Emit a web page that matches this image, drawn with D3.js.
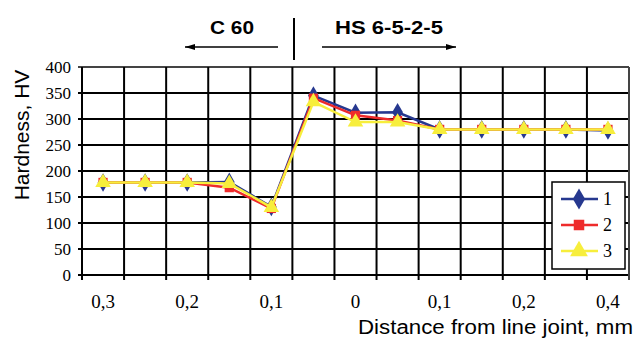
<!DOCTYPE html>
<html>
<head>
<meta charset="utf-8">
<script src="https://cdn.jsdelivr.net/npm/d3@7"></script>
<style>
  body { margin: 0; background: #fff; }
  svg { display: block; }
</style>
</head>
<body>
<div id="chart"></div>
<script>
// tick labels under the axis (only every other position is labelled)
var xLabels = ["0,3", "", "0,2", "", "0,1", "", "0", "", "0,1", "", "0,2", "", "0,4"];
var yTicks = [0, 50, 100, 150, 200, 250, 300, 350, 400];

// hardness values, one per position
var series1 = [178, 178, 178, 179, 131, 345, 312, 313, 280, 280, 280, 280, 278];
var series2 = [178, 178, 178, 168, 128, 340, 307, 297, 280, 280, 280, 280, 280];
var series3 = [178, 178, 178, 176, 130, 333, 294, 294, 280, 280, 280, 280, 280];
var seriesNames = ["1", "2", "3"];

var width = 636, height = 343;
// plot box (window.top is reserved, so prefixed names)
var plotLeft = 82, plotRight = 629, plotTop = 67, plotBottom = 275;

var colors = ["#26388f", "#ee2b2b", "#f7ee3c"];
var symbols = [d3.symbolDiamond, d3.symbolSquare, d3.symbolTriangle];
var symSize = [100, 85, 105];

var svg = d3.select("#chart").append("svg")
  .attr("width", width)
  .attr("height", height);

var x = d3.scaleBand()
  .domain(d3.range(xLabels.length))
  .range([plotLeft, plotRight])
  .padding(0);

var y = d3.scaleLinear()
  .domain([0, 400])
  .range([plotBottom, plotTop]);

// horizontal grid
svg.append("g").selectAll("line")
  .data(yTicks)
  .enter().append("line")
  .attr("x1", plotLeft - 4).attr("x2", plotRight)
  .attr("y1", function(d){ return y(d); })
  .attr("y2", function(d){ return y(d); })
  .attr("stroke", function(d){ return d == 400 ? "#444" : "#000"; })
  .attr("stroke-width", 2);

// vertical grid at band edges
var edges = x.domain().map(function(d){ return x(d); }).concat([plotRight]);
svg.append("g").selectAll("line")
  .data(edges)
  .enter().append("line")
  .attr("x1", function(d){ return d; })
  .attr("x2", function(d){ return d; })
  .attr("y1", plotTop)
  .attr("y2", plotBottom + 5)
  .attr("stroke", function(d, i){ return i == edges.length - 1 ? "#444" : "#000"; })
  .attr("stroke-width", 2);

// y tick labels
svg.append("g").selectAll("text")
  .data(yTicks)
  .enter().append("text")
  .attr("x", 71)
  .attr("y", function(d){ return y(d) + 5.5; })
  .attr("text-anchor", "end")
  .attr("font-family", "Liberation Serif")
  .attr("font-size", 17)
  .text(function(d){ return d; });

// x tick labels
svg.append("g").selectAll("text")
  .data(xLabels)
  .enter().append("text")
  .attr("x", function(d, i){ return x(i) + x.bandwidth() / 2; })
  .attr("y", 308)
  .attr("text-anchor", "middle")
  .attr("font-family", "Liberation Serif")
  .attr("font-size", 19)
  .text(function(d){ return d; });

// axis titles
svg.append("text")
  .attr("x", 633)
  .attr("y", 334)
  .attr("text-anchor", "end")
  .attr("font-family", "Liberation Sans")
  .attr("font-size", 20)
  .attr("textLength", 275)
  .attr("lengthAdjust", "spacingAndGlyphs")
  .text("Distance from line joint, mm");

svg.append("text")
  .attr("transform", "translate(29,135) rotate(-90)")
  .attr("text-anchor", "middle")
  .attr("font-family", "Liberation Sans")
  .attr("font-size", 21)
  .text("Hardness, HV");

// material labels and arrows above the plot
svg.append("defs").append("marker")
  .attr("id", "head")
  .attr("viewBox", "0 0 10 6")
  .attr("refX", 10).attr("refY", 3)
  .attr("markerWidth", 10).attr("markerHeight", 6)
  .attr("markerUnits", "userSpaceOnUse")
  .attr("orient", "auto")
  .append("path")
  .attr("d", "M0,0L10,3L0,6Z")
  .attr("fill", "#000");

svg.append("line")
  .attr("x1", 278).attr("x2", 185).attr("y1", 47).attr("y2", 47)
  .attr("stroke", "#000").attr("stroke-width", 1.5)
  .attr("marker-end", "url(#head)");
svg.append("line")
  .attr("x1", 322).attr("x2", 456).attr("y1", 47).attr("y2", 47)
  .attr("stroke", "#000").attr("stroke-width", 1.5)
  .attr("marker-end", "url(#head)");
svg.append("line")
  .attr("x1", 294).attr("x2", 294).attr("y1", 18).attr("y2", 60)
  .attr("stroke", "#000").attr("stroke-width", 2);

svg.append("text")
  .attr("x", 210).attr("y", 34)
  .attr("font-family", "Liberation Sans")
  .attr("font-weight", "bold")
  .attr("font-size", 19)
  .attr("textLength", 44)
  .attr("lengthAdjust", "spacingAndGlyphs")
  .text("C 60");
svg.append("text")
  .attr("x", 335).attr("y", 34)
  .attr("font-family", "Liberation Sans")
  .attr("font-weight", "bold")
  .attr("font-size", 19)
  .attr("textLength", 108)
  .attr("lengthAdjust", "spacingAndGlyphs")
  .text("HS 6-5-2-5");

// series lines and markers
var allSeries = [series1, series2, series3];
var line = d3.line()
  .x(function(d, i){ return x(i) + x.bandwidth() / 2; })
  .y(function(d){ return y(d); });

allSeries.forEach(function(s, k){
  var g = svg.append("g");
  g.append("path")
    .attr("d", line(s))
    .attr("fill", "none")
    .attr("stroke", colors[k])
    .attr("stroke-width", 2.5);
  g.selectAll("path.pt")
    .data(s)
    .enter().append("path")
    .attr("class", "pt")
    .attr("d", d3.symbol().type(symbols[k]).size(symSize[k]))
    .attr("transform", function(d, i){
      return "translate(" + (x(i) + x.bandwidth() / 2) + "," + y(d) + ")";
    })
    .attr("fill", colors[k]);
});

// legend
var legend = svg.append("g");
legend.append("rect")
  .attr("x", 552).attr("y", 182)
  .attr("width", 73).attr("height", 87)
  .attr("fill", "#fff")
  .attr("stroke", "#000")
  .attr("stroke-width", 1.5);

seriesNames.forEach(function(name, k){
  var ly = 199 + k * 26;
  legend.append("line")
    .attr("x1", 561).attr("x2", 598)
    .attr("y1", ly).attr("y2", ly)
    .attr("stroke", colors[k]).attr("stroke-width", 2.5);
  legend.append("path")
    .attr("d", d3.symbol().type(symbols[k]).size(symSize[k] * 1.3))
    .attr("transform", "translate(579," + ly + ")")
    .attr("fill", colors[k]);
  legend.append("text")
    .attr("x", 603).attr("y", ly + 6)
    .attr("font-family", "Liberation Serif")
    .attr("font-size", 18)
    .text(name);
});
</script>
</body>
</html>
